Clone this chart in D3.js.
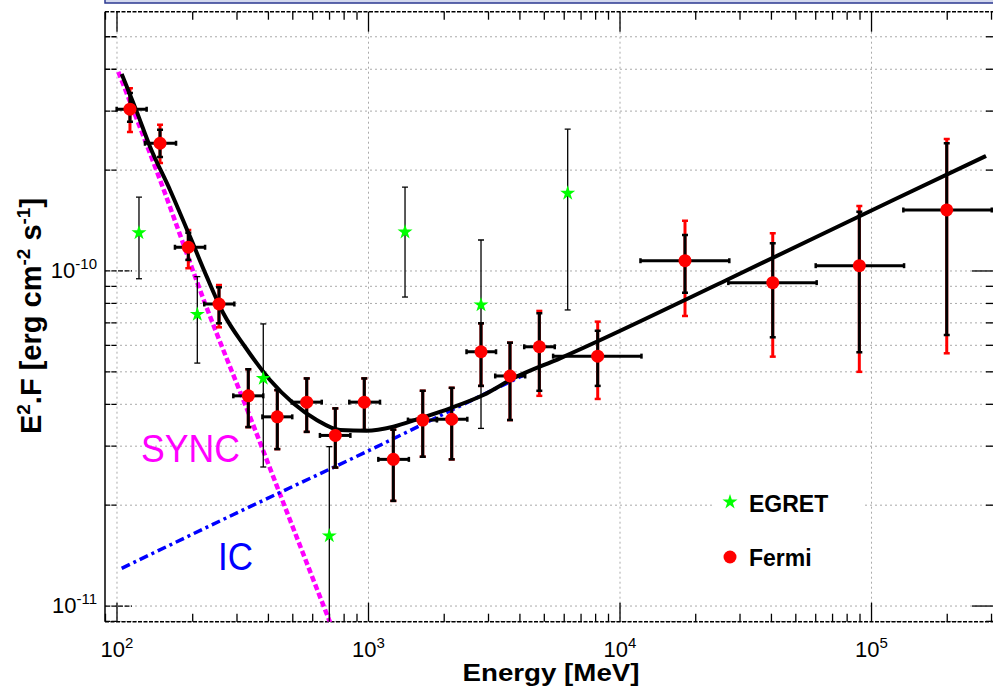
<!DOCTYPE html>
<html>
<head>
<meta charset="utf-8">
<script src="https://d3js.org/d3.v7.min.js"></script>
<style>
  body { margin: 0; background: #fff; }
  svg text { font-family: "Liberation Sans", Arial, sans-serif; }
</style>
</head>
<body>
<div id="chart"></div>
<script>
// Fermi points: energy (MeV), x-range, E2F and stat / systematic ranges
var fermiE     = [112.6, 148.3, 192.1, 254.4, 332.7, 433.9, 568, 738, 962, 1255, 1643, 2142, 2801, 3652, 4777, 8152, 18130, 40480, 89430, 199100];
var fermiELo   = [99.7, 129.2, 170, 222.3, 290, 378.6, 495.6, 641, 838.6, 1094, 1435, 1871, 2453, 3190, 4160, 5420, 12060, 26950, 59990, 133800];
var fermiEHi   = [131.2, 171.7, 224, 292.8, 381.6, 497.6, 651.7, 847, 1111, 1447, 1871, 2471, 3214, 4198, 5503, 12170, 27200, 60530, 134700, 300600];
var fermiF     = [3.04e-10, 2.405e-10, 1.177e-10, 7.97e-11, 4.24e-11, 3.67e-11, 4.06e-11, 3.23e-11, 4.06e-11, 2.74e-11, 3.59e-11, 3.61e-11, 5.74e-11, 4.86e-11, 5.94e-11, 5.57e-11, 1.073e-10, 9.23e-11, 1.037e-10, 1.521e-10];
var fermiStatLo = [2.79e-10, 2.19e-10, 1.079e-10, 6.98e-11, 3.42e-11, 2.94e-11, 3.31e-11, 2.59e-11, 3.35e-11, 2.06e-11, 2.79e-11, 2.74e-11, 4.54e-11, 3.59e-11, 4.39e-11, 4.54e-11, 8.61e-11, 6.34e-11, 5.72e-11, 6.44e-11];
var fermiStatHi = [3.40e-10, 2.64e-10, 1.30e-10, 8.94e-11, 5.09e-11, 4.41e-11, 4.78e-11, 3.89e-11, 4.78e-11, 3.36e-11, 4.39e-11, 4.48e-11, 6.98e-11, 6.11e-11, 7.48e-11, 6.63e-11, 1.28e-10, 1.21e-10, 1.503e-10, 2.405e-10];
var fermiSysLo = [2.60e-10, 2.10e-10, 1.019e-10, 6.79e-11, 3.42e-11, 2.94e-11, 3.31e-11, 2.59e-11, 3.35e-11, 2.06e-11, 2.79e-11, 2.74e-11, 4.54e-11, 3.59e-11, 4.24e-11, 4.15e-11, 7.34e-11, 5.55e-11, 5.00e-11, 5.68e-11];
var fermiSysHi = [3.51e-10, 2.73e-10, 1.325e-10, 9.08e-11, 5.09e-11, 4.41e-11, 4.78e-11, 3.89e-11, 4.78e-11, 3.36e-11, 4.39e-11, 4.48e-11, 6.98e-11, 6.11e-11, 7.60e-11, 7.06e-11, 1.413e-10, 1.296e-10, 1.563e-10, 2.477e-10];

// EGRET points
var egretE  = [122.3, 208.6, 381.6, 698.5, 1397, 2801, 6194];
var egretF  = [1.30e-10, 7.42e-11, 4.78e-11, 1.62e-11, 1.307e-10, 7.92e-11, 1.706e-10];
var egretLo = [9.48e-11, 5.31e-11, 2.60e-11, 5e-12, 8.36e-11, 3.39e-11, 7.65e-11];
var egretHi = [1.66e-10, 9.62e-11, 6.95e-11, 2.99e-11, 1.78e-10, 1.237e-10, 2.65e-10];

// model curves
var totalE = [104.4, 119.8, 135.3, 162.5, 195.1, 227.4, 264.7, 322.8, 405.8, 502.4, 622.3, 770.1, 983.6, 1255, 1602, 2109, 2860, 3765, 5773, 26560, 122100, 285300];
var totalF = [3.873e-10, 2.989e-10, 2.350e-10, 1.745e-10, 1.266e-10, 9.616e-11, 7.477e-11, 5.941e-11, 4.726e-11, 4.028e-11, 3.591e-11, 3.352e-11, 3.336e-11, 3.429e-11, 3.633e-11, 3.892e-11, 4.264e-11, 4.782e-11, 5.487e-11, 9.400e-11, 1.629e-10, 2.204e-10];
var syncE = [101.2, 148.3, 223.8, 338, 487.5, 736];
var syncF = [3.93e-10, 1.87e-10, 8.01e-11, 3.67e-11, 1.806e-11, 8.19e-12];
var icE = [104.4, 338, 983.6, 3543, 4200];
var icF = [1.296e-11, 1.98e-11, 2.89e-11, 4.62e-11, 4.91e-11];

// axis labels
var xTickVals = [1e2, 1e3, 1e4, 1e5];
var xTickExp  = ["2", "3", "4", "5"];
var yTickVals = [1e-11, 1e-10];
var yTickExp  = ["-11", "-10"];

var W = 993, H = 690;
var L = 105, R = 995, T = 11.7, B = 621.7;

var svg = d3.select("#chart").append("svg").attr("width", W).attr("height", H);

var x = d3.scaleLog().domain([89.6, 3.097e5]).range([L, R]);
var y = d3.scaleLog().domain([8.98e-12, 5.94e-10]).range([B, T]);

// box above the plot (cut off)
svg.append("rect").attr("x", 105).attr("y", -10).attr("width", 900).attr("height", 13)
  .attr("fill", "#d3d8ee").attr("stroke", "#2b3990").attr("stroke-width", 1.5);

svg.append("defs").append("clipPath").attr("id", "clip")
  .append("rect").attr("x", L).attr("y", T).attr("width", R - L).attr("height", B - T);

// grid
var yGrid = [];
for (var e = -12; e <= -9; e++) for (var m = 1; m <= 9; m++) {
  var v = m * Math.pow(10, e);
  if (v > y.domain()[0] && v < y.domain()[1]) yGrid.push(v);
}
var xMinor = [];
for (var e2 = 1; e2 <= 5; e2++) for (var m2 = 1; m2 <= 9; m2++) {
  var v2 = m2 * Math.pow(10, e2);
  if (v2 > x.domain()[0] && v2 < x.domain()[1]) xMinor.push(v2);
}

var grid = svg.append("g").attr("stroke", "#aaa").attr("stroke-width", 1).attr("stroke-dasharray", "2,3");
grid.selectAll(".gy").data(yGrid).enter().append("line")
  .attr("x1", L).attr("x2", R).attr("y1", d => y(d)).attr("y2", d => y(d));
grid.selectAll(".gx").data(xTickVals).enter().append("line")
  .attr("x1", d => x(d)).attr("x2", d => x(d)).attr("y1", T).attr("y2", B);

// legend background
svg.append("rect").attr("x", 713).attr("y", 468).attr("width", 150).attr("height", 128).attr("fill", "#fff");

// frame
var frame = svg.append("g").attr("stroke", "#000").attr("stroke-width", 1.5);
frame.append("line").attr("x1", L).attr("x2", L).attr("y1", T).attr("y2", B);
frame.append("line").attr("x1", L).attr("x2", R).attr("y1", T).attr("y2", T).attr("stroke-dasharray", "4,1.5");
frame.append("line").attr("x1", L).attr("x2", R).attr("y1", B).attr("y2", B).attr("stroke-dasharray", "4,1.5");

// ticks
var ticks = svg.append("g").attr("stroke", "#000").attr("stroke-width", 1.3);
xMinor.forEach(function (v) {
  var major = xTickVals.indexOf(v) >= 0;
  var len = major ? 19 : 8;
  ticks.append("line").attr("x1", x(v)).attr("x2", x(v)).attr("y1", B).attr("y2", B - len);
  ticks.append("line").attr("x1", x(v)).attr("x2", x(v)).attr("y1", T).attr("y2", T + (major ? 20 : 8));
});
yGrid.forEach(function (v) {
  var major = yTickVals.indexOf(v) >= 0;
  ticks.append("line").attr("x1", L).attr("x2", L + (major ? 27 : 13))
    .attr("y1", y(v)).attr("y2", y(v)).attr("stroke-dasharray", "5,1.5");
  ticks.append("line").attr("x1", R).attr("x2", R - (major ? 23 : 9)).attr("y1", y(v)).attr("y2", y(v));
});

// tick labels
xTickVals.forEach(function (v, i) {
  var t = svg.append("text").attr("x", x(v)).attr("y", 657).attr("text-anchor", "middle")
    .attr("font-size", 22).attr("fill", "#000");
  t.append("tspan").text("10");
  t.append("tspan").attr("dy", -9).attr("font-size", 15).text(xTickExp[i]);
});
yTickVals.forEach(function (v, i) {
  var t = svg.append("text").attr("x", 97).attr("y", y(v) + 7).attr("text-anchor", "end")
    .attr("font-size", 22).attr("fill", "#000");
  t.append("tspan").text("10");
  t.append("tspan").attr("dy", -9).attr("font-size", 15).text(yTickExp[i]);
});

// axis titles
svg.append("text").attr("x", 551).attr("y", 681).attr("text-anchor", "middle")
  .attr("font-size", 24).attr("font-weight", "bold").attr("textLength", 177)
  .attr("lengthAdjust", "spacingAndGlyphs").text("Energy [MeV]");

var yl = svg.append("text").attr("transform", "translate(41,316) rotate(-90)")
  .attr("text-anchor", "middle").attr("font-size", 29).attr("font-weight", "bold");
yl.append("tspan").text("E");
yl.append("tspan").attr("dy", -11).attr("font-size", 19).text("2");
yl.append("tspan").attr("dy", 11).text(".F [erg cm");
yl.append("tspan").attr("dy", -11).attr("font-size", 19).text("-2");
yl.append("tspan").attr("dy", 11).text(" s");
yl.append("tspan").attr("dy", -11).attr("font-size", 19).text("-1");
yl.append("tspan").attr("dy", 11).text("]");

var plot = svg.append("g").attr("clip-path", "url(#clip)");

var line = d3.line().x(d => x(d[0])).y(d => y(d[1])).curve(d3.curveMonotoneX);

plot.append("path").datum(syncE.map((e, i) => [e, syncF[i]]))
  .attr("d", line).attr("fill", "none").attr("stroke", "#ff00ff")
  .attr("stroke-width", 4.5).attr("stroke-dasharray", "6,3");
plot.append("path").datum(icE.map((e, i) => [e, icF[i]]))
  .attr("d", line).attr("fill", "none").attr("stroke", "#0000ff")
  .attr("stroke-width", 3.5).attr("stroke-dasharray", "9,4,3,4");

// EGRET error bars
var eg = plot.append("g").attr("stroke", "#000").attr("stroke-width", 1.3);
egretE.forEach(function (e, i) {
  var cx = x(e);
  eg.append("line").attr("x1", cx).attr("x2", cx).attr("y1", y(egretLo[i])).attr("y2", y(egretHi[i]));
  [egretLo[i], egretHi[i]].forEach(function (v) {
    eg.append("line").attr("x1", cx - 3).attr("x2", cx + 3).attr("y1", y(v)).attr("y2", y(v));
  });
});

// Fermi error bars
var fe = plot.append("g");
fermiE.forEach(function (e, i) {
  var cx = x(e), cy = y(fermiF[i]);
  fe.append("line").attr("x1", cx).attr("x2", cx).attr("y1", y(fermiSysLo[i])).attr("y2", y(fermiSysHi[i]))
    .attr("stroke", "#ff0000").attr("stroke-width", 3);
  [fermiSysLo[i], fermiSysHi[i]].forEach(function (v) {
    fe.append("line").attr("x1", cx - 3).attr("x2", cx + 3).attr("y1", y(v)).attr("y2", y(v))
      .attr("stroke", "#ff0000").attr("stroke-width", 2.5);
  });
  fe.append("line").attr("x1", cx).attr("x2", cx).attr("y1", y(fermiStatLo[i])).attr("y2", y(fermiStatHi[i]))
    .attr("stroke", "#000").attr("stroke-width", 3);
  [fermiStatLo[i], fermiStatHi[i]].forEach(function (v) {
    fe.append("line").attr("x1", cx - 3).attr("x2", cx + 3).attr("y1", y(v)).attr("y2", y(v))
      .attr("stroke", "#000").attr("stroke-width", 2.5);
  });
  fe.append("line").attr("x1", x(fermiELo[i])).attr("x2", x(fermiEHi[i])).attr("y1", cy).attr("y2", cy)
    .attr("stroke", "#000").attr("stroke-width", 3);
  [fermiELo[i], fermiEHi[i]].forEach(function (v) {
    fe.append("line").attr("x1", x(v)).attr("x2", x(v)).attr("y1", cy - 2.5).attr("y2", cy + 2.5)
      .attr("stroke", "#000").attr("stroke-width", 2.5);
  });
});

// total model
plot.append("path").datum(totalE.map((e, i) => [e, totalF[i]]))
  .attr("d", line).attr("fill", "none").attr("stroke", "#000").attr("stroke-width", 4);

// markers
var star = d3.symbol().type(d3.symbolStar).size(70);
plot.selectAll(".eg").data(egretE).enter().append("path")
  .attr("d", star).attr("fill", "#00ff00")
  .attr("transform", (d, i) => "translate(" + x(d) + "," + y(egretF[i]) + ")");
plot.selectAll(".fm").data(fermiE).enter().append("circle")
  .attr("cx", d => x(d)).attr("cy", (d, i) => y(fermiF[i])).attr("r", 6.5).attr("fill", "#ff0000");

// curve labels
svg.append("text").attr("x", 141).attr("y", 462).attr("font-family", "Open Sans")
  .attr("font-size", 39).attr("fill", "#ff00ff").attr("textLength", 99)
  .attr("lengthAdjust", "spacingAndGlyphs").text("SYNC");
svg.append("text").attr("x", 218).attr("y", 570).attr("font-family", "Open Sans")
  .attr("font-size", 39).attr("fill", "#0000ff").attr("textLength", 35)
  .attr("lengthAdjust", "spacingAndGlyphs").text("IC");

// legend
svg.append("path").attr("d", star).attr("fill", "#00ff00").attr("transform", "translate(730,502)");
svg.append("text").attr("x", 749).attr("y", 512).attr("font-size", 23).attr("font-weight", "bold").text("EGRET");
svg.append("circle").attr("cx", 730).attr("cy", 557).attr("r", 6.5).attr("fill", "#ff0000");
svg.append("text").attr("x", 749).attr("y", 566).attr("font-size", 23).attr("font-weight", "bold").text("Fermi");
</script>
</body>
</html>
